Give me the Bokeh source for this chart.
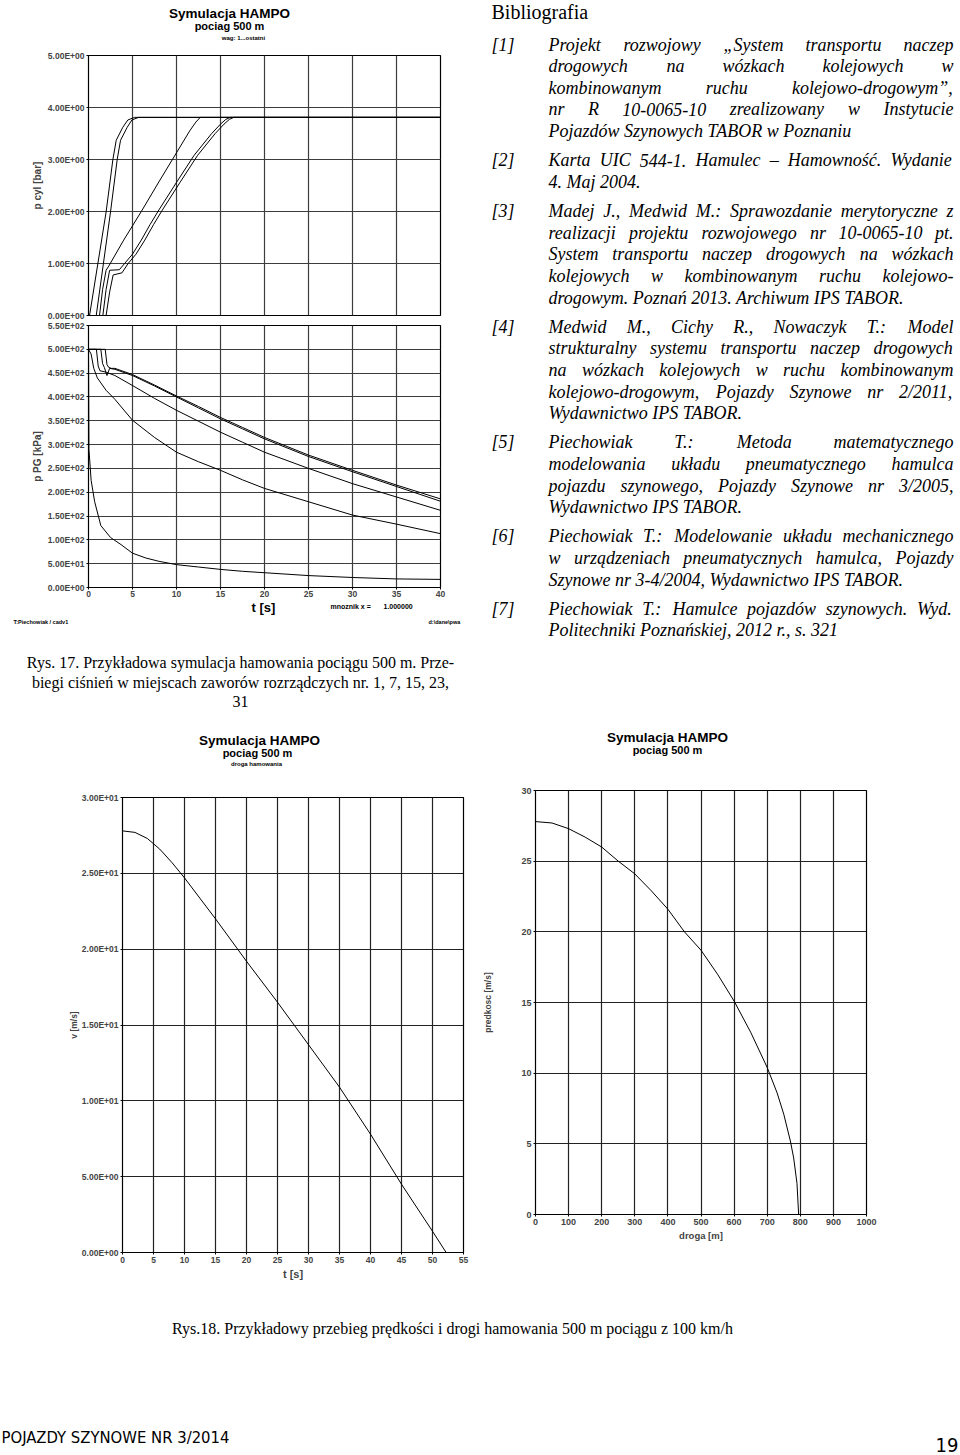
import os, glob, struct
from bokeh.plotting import figure
from bokeh.layouts import row, column
from bokeh.models import Range1d, FixedTicker
from bokeh.core.properties import value
from bokeh.embed import file_html
from bokeh.resources import INLINE

# ===================== DATA =====================
# Rys. 17 (top): brake cylinder pressure p cyl [bar] vs t [s] for valves 1, 7, 15, 23, 31
cyl_t_1 = [0, 0.12, 2.0, 2.77, 3.15, 3.9, 4.47, 5.23, 40]
cyl_p_1 = [0, 0, 1.99, 3.0, 3.37, 3.62, 3.76, 3.81, 3.81]
cyl_t_7 = [0, 0.88, 2.5, 3.26, 3.64, 4.4, 4.93, 5.69, 40]
cyl_p_7 = [0, 0, 1.99, 3.0, 3.37, 3.62, 3.76, 3.81, 3.81]
cyl_t_15 = [0, 1.25, 1.6, 2.0, 2.3, 4, 6, 8, 10, 11.5, 12.2, 12.7, 40]
cyl_p_15 = [0, 0, 0.5, 0.87, 0.95, 1.45, 2.0, 2.57, 3.13, 3.55, 3.72, 3.81, 3.81]
cyl_t_23 = [0, 1.63, 2.0, 2.4, 3.5, 4.1, 5, 6, 7, 8, 10, 12, 14, 15, 15.6, 16.1, 40]
cyl_p_23 = [0, 0, 0.5, 0.87, 0.88, 1.0, 1.18, 1.45, 1.75, 2.03, 2.56, 3.08, 3.5, 3.68, 3.77, 3.81, 3.81]
cyl_t_31 = [0, 2.0, 2.4, 2.8, 3.8, 4.5, 5.4, 6.4, 7.4, 8.4, 10.4, 12.4, 14.4, 15.4, 16.0, 16.5, 40]
cyl_p_31 = [0, 0, 0.45, 0.78, 0.82, 1.0, 1.18, 1.45, 1.75, 2.03, 2.56, 3.08, 3.5, 3.68, 3.77, 3.81, 3.81]

# Rys. 17 (bottom): brake pipe pressure p PG [kPa] vs t [s]
pg_t_1 = [0, 0.05, 0.3, 0.7, 1.4, 2.5, 3.7, 5, 6.5, 8, 10, 12.5, 15, 17.5, 20, 25, 30, 35, 40]
pg_p_1 = [500, 290, 225, 180, 130, 105, 90, 72, 62, 55, 48, 43, 38, 34, 31, 25, 21, 18, 17]
pg_t_7 = [0, 0.3, 0.6, 1, 2, 3, 5, 7.5, 10, 12.5, 15, 17.5, 20, 25, 30, 35, 40]
pg_p_7 = [500, 490, 460, 440, 414, 395, 351, 315, 284, 264, 246, 226, 208, 180, 152, 133, 113]
pg_t_15 = [0, 0.9, 1.1, 1.3, 2, 3, 5, 7.5, 10, 12.5, 15, 17.5, 20, 25, 30, 35, 40]
pg_p_15 = [500, 500, 465, 455, 452, 445, 424, 397, 372, 349, 326, 305, 284, 250, 218, 190, 162]
pg_t_23 = [0, 1.4, 1.6, 1.8, 2.1, 2.4, 3, 5, 7.5, 10, 12.5, 15, 17.5, 20, 25, 30, 35, 40]
pg_p_23 = [500, 500, 470, 462, 445, 460, 458, 445, 423, 400, 377, 354, 333, 312, 275, 243, 212, 181]
pg_t_31 = [0, 1.9, 2.1, 2.3, 2.6, 3, 5, 7.5, 10, 12.5, 15, 17.5, 20, 25, 30, 35, 40]
pg_p_31 = [500, 500, 468, 462, 460, 460, 447, 425, 402, 380, 357, 336, 315, 278, 246, 215, 186]

# Rys. 18 (left): speed v [m/s] vs t [s]
vt_t = [0, 2, 4, 6, 8, 10, 15, 20, 25, 30, 35, 40, 45, 50, 52.2]
vt_v = [27.8, 27.7, 27.3, 26.6, 25.7, 24.7, 22.0, 19.2, 16.5, 13.7, 10.9, 7.8, 4.5, 1.4, 0]

# Rys. 18 (right): speed [m/s] vs braking distance [m]
vs_s = [0, 50, 100, 150, 200, 250, 300, 350, 400, 450, 500, 550, 600, 650, 700, 730, 750, 770, 780, 790, 795]
vs_v = [27.8, 27.7, 27.3, 26.7, 26.0, 25.0, 24.1, 22.9, 21.6, 20.0, 18.7, 17.0, 15.1, 12.9, 10.4, 8.6, 7.1, 5.2, 4.0, 2.2, 0]

# ticks and tick labels
t40_ticks = [0, 5, 10, 15, 20, 25, 30, 35, 40]
cyl_ticks = [0, 1, 2, 3, 4, 5]
cyl_tick_labels = ["0.00E+00", "1.00E+00", "2.00E+00", "3.00E+00", "4.00E+00", "5.00E+00"]
pg_ticks = [0, 50, 100, 150, 200, 250, 300, 350, 400, 450, 500, 550]
pg_tick_labels = ["0.00E+00", "5.00E+01", "1.00E+02", "1.50E+02", "2.00E+02", "2.50E+02",
                  "3.00E+02", "3.50E+02", "4.00E+02", "4.50E+02", "5.00E+02", "5.50E+02"]
t55_ticks = [0, 5, 10, 15, 20, 25, 30, 35, 40, 45, 50, 55]
v_ticks = [0, 5, 10, 15, 20, 25, 30]
v_tick_labels = ["0.00E+00", "5.00E+00", "1.00E+01", "1.50E+01", "2.00E+01", "2.50E+01", "3.00E+01"]
s_ticks = [0, 100, 200, 300, 400, 500, 600, 700, 800, 900, 1000]

# texts
chart_title = "Symulacja HAMPO"
chart_sub = "pociag 500 m"
caption17 = ["Rys. 17. Przykładowa symulacja hamowania pociągu 500 m. Prze-",
             "biegi ciśnień w miejscach zaworów rozrządczych nr. 1, 7, 15, 23,",
             "31"]
caption18 = "Rys.18. Przykładowy przebieg prędkości i drogi hamowania 500 m pociągu z 100 km/h"
footer_left = "POJAZDY SZYNOWE NR 3/2014"
footer_right = "19"
bib_heading = "Bibliografia"
bib_numbers = ["[1]", "[2]", "[3]", "[4]", "[5]", "[6]", "[7]"]
bib_lines = [
    ["Projekt rozwojowy „System transportu naczep",
     "drogowych na wózkach kolejowych w",
     "kombinowanym ruchu kolejowo-drogowym”,",
     "nr R 10-0065-10 zrealizowany w Instytucie",
     "Pojazdów Szynowych TABOR w Poznaniu"],
    ["Karta UIC 544-1. Hamulec – Hamowność. Wydanie",
     "4. Maj 2004."],
    ["Madej J., Medwid M.: Sprawozdanie merytoryczne z",
     "realizacji projektu rozwojowego nr 10-0065-10 pt.",
     "System transportu naczep drogowych na wózkach",
     "kolejowych w kombinowanym ruchu kolejowo-",
     "drogowym. Poznań 2013. Archiwum IPS TABOR."],
    ["Medwid M., Cichy R., Nowaczyk T.: Model",
     "strukturalny systemu transportu naczep drogowych",
     "na wózkach kolejowych w ruchu kombinowanym",
     "kolejowo-drogowym, Pojazdy Szynowe nr 2/2011,",
     "Wydawnictwo IPS TABOR."],
    ["Piechowiak T.: Metoda matematycznego",
     "modelowania układu pneumatycznego hamulca",
     "pojazdu szynowego, Pojazdy Szynowe nr 3/2005,",
     "Wydawnictwo IPS TABOR."],
    ["Piechowiak T.: Modelowanie układu mechanicznego",
     "w urządzeniach pneumatycznych hamulca, Pojazdy",
     "Szynowe nr 3-4/2004, Wydawnictwo IPS TABOR."],
    ["Piechowiak T.: Hamulce pojazdów szynowych. Wyd.",
     "Politechniki Poznańskiej, 2012 r., s. 321"],
]

# ===================== font metrics (for justified text) =====================
def _load_metrics(fname):
    path = None
    for root in ("/usr/share/fonts", "/usr/local/share/fonts",
                 os.path.expanduser("~/.local/share/fonts"), os.path.expanduser("~/.fonts")):
        hits = sorted(glob.glob(os.path.join(root, "**", fname), recursive=True))
        if hits:
            path = hits[0]
            break
    if path is None:
        return None
    try:
        data = open(path, "rb").read()
        ntab = struct.unpack(">H", data[4:6])[0]
        tabs = {}
        for i in range(ntab):
            tag, _, off, ln = struct.unpack(">4sIII", data[12 + 16 * i: 28 + 16 * i])
            tabs[tag.decode("latin-1")] = off
        upem = struct.unpack(">H", data[tabs["head"] + 18: tabs["head"] + 20])[0]
        nhm = struct.unpack(">H", data[tabs["hhea"] + 34: tabs["hhea"] + 36])[0]
        hm = tabs["hmtx"]
        adv = [struct.unpack(">H", data[hm + 4 * i: hm + 4 * i + 2])[0] for i in range(nhm)]
        cm = tabs["cmap"]
        nsub = struct.unpack(">H", data[cm + 2: cm + 4])[0]
        sub = None
        for i in range(nsub):
            pid, eid, off = struct.unpack(">HHI", data[cm + 4 + 8 * i: cm + 12 + 8 * i])
            fmt = struct.unpack(">H", data[cm + off: cm + off + 2])[0]
            if pid == 3 and eid == 1 and fmt == 4:
                sub = cm + off
                break
        if sub is None:
            return None
        segx2 = struct.unpack(">H", data[sub + 6: sub + 8])[0]
        n = segx2 // 2
        ends = struct.unpack(">%dH" % n, data[sub + 14: sub + 14 + segx2])
        starts = struct.unpack(">%dH" % n, data[sub + 16 + segx2: sub + 16 + 2 * segx2])
        deltas = struct.unpack(">%dh" % n, data[sub + 16 + 2 * segx2: sub + 16 + 3 * segx2])
        ro_pos = sub + 16 + 3 * segx2
        ros = struct.unpack(">%dH" % n, data[ro_pos: ro_pos + segx2])
    except Exception:
        return None
    cache = {}

    def adv_of(ch):
        if ch in cache:
            return cache[ch]
        cp = ord(ch)
        g = 0
        for k in range(n):
            if ends[k] >= cp:
                if starts[k] <= cp:
                    if ros[k] == 0:
                        g = (cp + deltas[k]) & 0xFFFF
                    else:
                        a = ro_pos + 2 * k + ros[k] + 2 * (cp - starts[k])
                        g = struct.unpack(">H", data[a:a + 2])[0]
                        if g:
                            g = (g + deltas[k]) & 0xFFFF
                break
        w = adv[min(g, nhm - 1)] / upem
        cache[ch] = w
        return w

    return lambda s, size: sum(adv_of(c) for c in s) * size


ITALIC_METRICS = _load_metrics("LiberationSerif-Italic.ttf")


def text_width(s, size):
    if ITALIC_METRICS is None:
        return len(s) * 0.44 * size
    return ITALIC_METRICS(s, size)


# ===================== helpers =====================
SANS = "Liberation Sans"
SERIF = "Liberation Serif"
NARROW = "Liberation Sans Narrow, Arial Narrow, DejaVu Sans Condensed, sans-serif"
GRID_COLOR = "#3c3c3c"


def no_align(p):
    try:
        p.frame_align = False
    except Exception:
        pass


def page_fig(x0, y0, w, h):
    p = figure(width=w, height=h, x_range=Range1d(x0, x0 + w), y_range=Range1d(y0 + h, y0),
               output_backend="svg", toolbar_location=None, title=None,
               x_axis_type=None, y_axis_type=None, min_border=0)
    p.outline_line_color = None
    p.background_fill_color = "white"
    p.border_fill_color = "white"
    no_align(p)
    return p


def add_text(p, xs, ys, texts, size, style="normal", font=SERIF, align="left"):
    p.text(x=xs, y=ys, text=texts, text_font=value(font), text_font_size=value(f"{size}px"),
           text_font_style=style, text_align=align, text_baseline="middle", text_color="black")


def make_chart(box, frame, xr, yr, xticks, yticks, ylabels=None, show_x=True,
               tick_size=8.5, grid_color=GRID_COLOR):
    bx0, by0, bx1, by1 = box
    L, T, R, B = frame
    p = figure(width=bx1 - bx0, height=by1 - by0, x_range=Range1d(*xr), y_range=Range1d(*yr),
               output_backend="svg", toolbar_location=None, title=None,
               x_axis_location="below" if show_x else None,
               min_border_left=L - bx0, min_border_right=bx1 - R,
               min_border_top=T - by0, min_border_bottom=by1 - B)
    no_align(p)
    p.background_fill_color = "white"
    p.border_fill_color = "white"
    p.outline_line_color = "black"
    p.outline_line_width = 1.2
    for ax in p.axis:
        ax.major_tick_in = 0
        ax.major_tick_out = 2
        ax.minor_tick_line_color = None
        ax.axis_line_color = "black"
        ax.major_tick_line_color = "black"
        ax.major_label_text_font = SANS
        ax.major_label_text_font_style = "bold"
        ax.major_label_text_font_size = f"{tick_size}px"
        ax.major_label_standoff = 2
        ax.axis_label_text_font = SANS
        ax.axis_label_text_font_style = "bold"
    p.yaxis.ticker = FixedTicker(ticks=yticks)
    if ylabels is not None:
        p.yaxis.major_label_overrides = {v: s for v, s in zip(yticks, ylabels)}
    if show_x:
        p.xaxis.ticker = FixedTicker(ticks=xticks)
    p.xgrid.ticker = FixedTicker(ticks=xticks)
    p.ygrid.ticker = FixedTicker(ticks=yticks)
    p.grid.grid_line_color = grid_color
    p.grid.grid_line_width = 1.2
    p.grid.grid_line_alpha = 1
    return p


def curve(p, xs, ys):
    p.line(x=xs, y=ys, line_color="black", line_width=1)


# ===================== Rys. 17 header + top chart: p cyl =====================
head1 = page_fig(0, 0, 480, 45)
add_text(head1, [229], [13], [chart_title], 13.5, style="bold", font=SANS, align="center")
add_text(head1, [229], [25], [chart_sub], 11, style="bold", font=SANS, align="center")
add_text(head1, [243], [37], ["wag: 1...ostatni"], 6, style="bold", font=SANS, align="center")

f1 = make_chart((0, 45, 480, 320), (88, 55, 440, 315), (0, 40), (0, 5),
                t40_ticks, cyl_ticks, cyl_tick_labels, show_x=False)
f1.yaxis.axis_label = "p cyl [bar]"
f1.yaxis.axis_label_text_font_size = "10px"
f1.yaxis.axis_label_standoff = 2
for xs, ys in [(cyl_t_1, cyl_p_1), (cyl_t_7, cyl_p_7), (cyl_t_15, cyl_p_15),
               (cyl_t_23, cyl_p_23), (cyl_t_31, cyl_p_31)]:
    curve(f1, xs, ys)

# ===================== Rys. 17 bottom chart: p PG =====================
f2 = make_chart((0, 320, 480, 601), (88, 325, 440, 587), (0, 40), (0, 550),
                t40_ticks, pg_ticks, pg_tick_labels)
f2.xaxis.major_label_standoff = 1
f2.yaxis.axis_label = "p PG [kPa]"
f2.yaxis.axis_label_text_font_size = "10px"
f2.yaxis.axis_label_standoff = 2
for xs, ys in [(pg_t_1, pg_p_1), (pg_t_7, pg_p_7), (pg_t_15, pg_p_15),
               (pg_t_23, pg_p_23), (pg_t_31, pg_p_31)]:
    curve(f2, xs, ys)

strip2 = page_fig(0, 601, 480, 29)
add_text(strip2, [263], [607], ["t [s]"], 13, style="bold", font=SANS, align="center")
add_text(strip2, [330, 383], [606, 606], ["mnoznik x =", "1.000000"], 7, style="bold", font=SANS)
add_text(strip2, [13, 428], [621, 621], ["T:Piechowiak / cadv1", "d:\\dane\\pwa"], 5.5, style="bold", font=SANS)

# ===================== caption 17 =====================
cap1 = page_fig(0, 630, 480, 85)
add_text(cap1, [240, 240, 240], [662, 682, 701], caption17, 16, align="center")

# ===================== Bibliography (italic, justified) =====================
bib = page_fig(480, 0, 480, 715)
BIB_SIZE = 18
BIB_NUM_X, BIB_LEFT, BIB_RIGHT = 491, 548, 953
it_x, it_y, it_t = [], [], []


def place(words, y, justify):
    ws = [text_width(w, BIB_SIZE) for w in words]
    if justify and len(words) > 1:
        gap = (BIB_RIGHT - BIB_LEFT - sum(ws)) / (len(words) - 1)
        x = BIB_LEFT
        for w, wd in zip(words, ws):
            it_x.append(x)
            it_y.append(y)
            it_t.append(w)
            x += wd + gap
    else:
        it_x.append(BIB_LEFT)
        it_y.append(y)
        it_t.append(" ".join(words))


y = 44.0
for i, lines in enumerate(bib_lines):
    it_x.append(BIB_NUM_X)
    it_y.append(y)
    it_t.append(bib_numbers[i])
    for j, line in enumerate(lines):
        place(line.split(" "), y, j < len(lines) - 1)
        y += 21.65
    y += 7.45

add_text(bib, [BIB_NUM_X], [11], [bib_heading], 20)
add_text(bib, it_x, it_y, it_t, BIB_SIZE, style="italic")

# ===================== Rys. 18 left: v(t) =====================
head3 = page_fig(0, 715, 480, 65)
add_text(head3, [259], [740], [chart_title], 13.5, style="bold", font=SANS, align="center")
add_text(head3, [257], [752], [chart_sub], 11, style="bold", font=SANS, align="center")
add_text(head3, [256], [763], ["droga hamowania"], 6, style="bold", font=SANS, align="center")

f3 = make_chart((0, 780, 480, 1295), (122, 797, 463, 1252), (0, 55), (0, 30),
                t55_ticks, v_ticks, v_tick_labels, grid_color="#222222")
f3.yaxis.axis_label = "v [m/s]"
f3.yaxis.axis_label_text_font_size = "8.5px"
f3.yaxis.axis_label_standoff = 0
f3.xaxis.axis_label = "t [s]"
f3.xaxis.axis_label_text_font_size = "11px"
f3.xaxis.axis_label_standoff = 2
curve(f3, vt_t, vt_v)

# ===================== Rys. 18 right: v(s) =====================
head4 = page_fig(480, 715, 480, 65)
add_text(head4, [667], [737], [chart_title], 13.5, style="bold", font=SANS, align="center")
add_text(head4, [667], [749], [chart_sub], 11, style="bold", font=SANS, align="center")

f4 = make_chart((480, 780, 960, 1295), (532, 790, 866, 1214), (0, 1000), (0, 30),
                s_ticks, v_ticks, None, tick_size=9, grid_color="#222222")
f4.yaxis.axis_label = "predkosc [m/s]"
f4.yaxis.axis_label_text_font_size = "8.5px"
f4.yaxis.axis_label_standoff = 25
f4.xaxis.axis_label = "droga [m]"
f4.xaxis.axis_label_text_font_size = "9.5px"
f4.xaxis.axis_label_standoff = 2
curve(f4, vs_s, vs_v)

# ===================== caption 18 + footer =====================
bot = page_fig(0, 1295, 960, 160)
add_text(bot, [452], [1328], [caption18], 16, align="center")
add_text(bot, [1], [1437], [footer_left], 16.5, font=NARROW)
add_text(bot, [958], [1444], [footer_right], 20, font=NARROW, align="right")

left_col = column(head1, f1, f2, strip2, cap1)
page = column(row(left_col, bib),
              row(column(head3, f3), column(head4, f4)),
              bot)
open("out.html", "w").write(file_html(page, INLINE))
